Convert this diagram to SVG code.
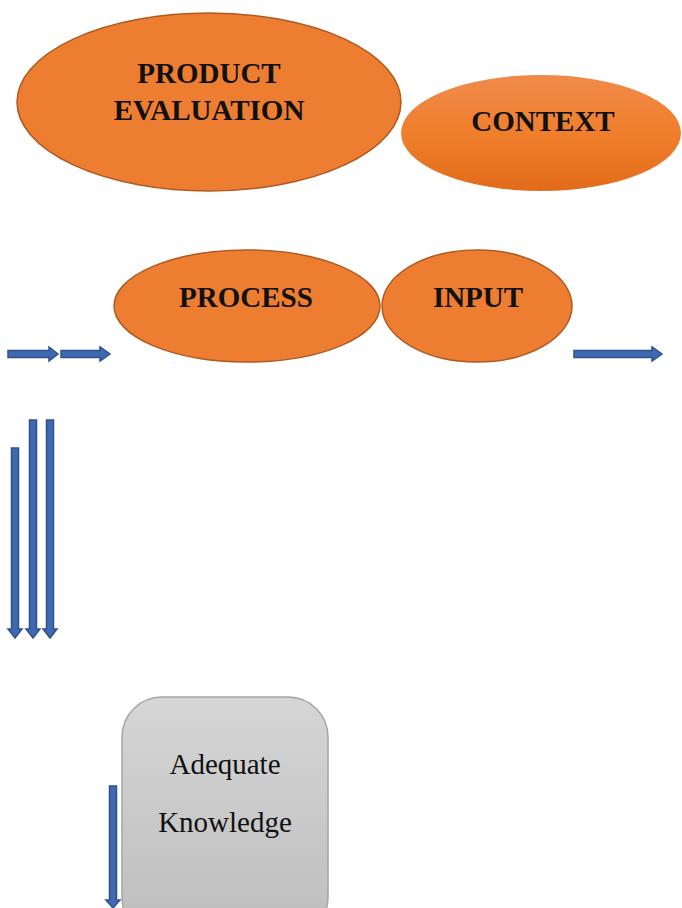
<svg xmlns="http://www.w3.org/2000/svg" width="682" height="908" viewBox="0 0 682 908">
<defs>
<linearGradient id="og" x1="0" y1="0" x2="0" y2="1">
<stop offset="0" stop-color="#F08A4B"/>
<stop offset="0.5" stop-color="#F07F2C"/>
<stop offset="1" stop-color="#E26B1A"/>
</linearGradient>
<linearGradient id="gg" x1="0" y1="0" x2="0" y2="1">
<stop offset="0" stop-color="#D6D6D6"/>
<stop offset="1" stop-color="#BDBDBD"/>
</linearGradient>
</defs>
<style>
.ell{fill:#ED7D31;stroke:#AE5A21;stroke-width:1.5}
.lbl{font-family:"Liberation Serif","Times New Roman",serif;font-weight:bold;font-size:29px;fill:#111;text-anchor:middle}
.txt{font-family:"Liberation Serif","Times New Roman",serif;font-size:29px;fill:#111;text-anchor:middle}
.arr{fill:#4169B0;stroke:#2F528F;stroke-width:1.5;stroke-linejoin:miter}
</style>
<g id="product-evaluation">
<ellipse class="ell" cx="209" cy="102" rx="192" ry="89"/>
<text class="lbl" x="209" y="83">PRODUCT</text>
<text class="lbl" x="209" y="120">EVALUATION</text>
</g>
<g id="context">
<ellipse cx="541" cy="133" rx="140" ry="58" fill="url(#og)"/>
<text class="lbl" x="543" y="131">CONTEXT</text>
</g>
<g id="process">
<ellipse class="ell" cx="247" cy="306" rx="133" ry="56"/>
<text class="lbl" x="246" y="307">PROCESS</text>
</g>
<g id="input">
<ellipse class="ell" cx="477" cy="306" rx="95" ry="56"/>
<text class="lbl" x="478" y="307">INPUT</text>
</g>
<g id="adequate-knowledge">
<rect x="122" y="697" width="206" height="240" rx="40" ry="40" fill="url(#gg)" stroke="#A5A5A5" stroke-width="1.5"/>
<text class="txt" x="225" y="774">Adequate</text>
<text class="txt" x="225" y="832">Knowledge</text>
</g>
<g id="connectors">
<polygon class="arr" points="8,350.5 49,350.5 49,347 58,354 49,361 49,357.5 8,357.5"/>
<polygon class="arr" points="61,350.5 100,350.5 100,347 110,354 100,361 100,357.5 61,357.5"/>
<polygon class="arr" points="574,350.5 652,350.5 652,347 662,354 652,361 652,357.5 574,357.5"/>
<polygon class="arr" points="11.5,448 18.5,448 18.5,629 22,629 15,638 8,629 11.5,629"/>
<polygon class="arr" points="29.5,420 36.5,420 36.5,629 40,629 33,638 26,629 29.5,629"/>
<polygon class="arr" points="46.5,420 53.5,420 53.5,629 57,629 50,638 43,629 46.5,629"/>
<polygon class="arr" points="109.5,786 116.5,786 116.5,900 120,900 113,908 106,900 109.5,900"/>
</g>
</svg>
